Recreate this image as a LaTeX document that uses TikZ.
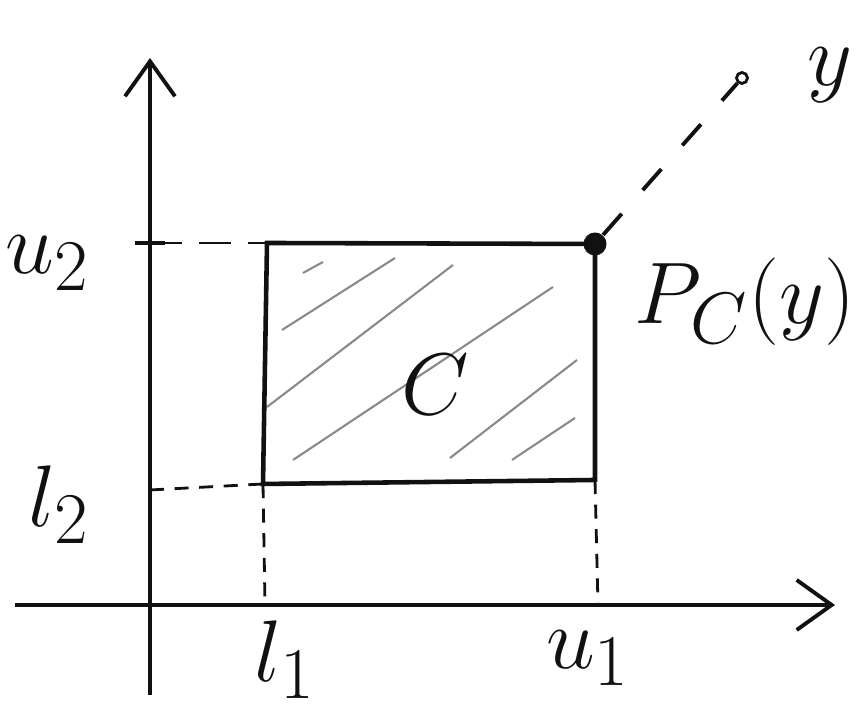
\documentclass[tikz,border=0pt]{standalone}
\usepackage{amsmath,amssymb}
\usepackage{tikz}
\usetikzlibrary{arrows.meta,positioning}
\definecolor{ink}{HTML}{111111}
\definecolor{hatch}{HTML}{8A8A8A}
\tikzset{
  axis/.style={line width=1.1pt, draw=ink, -{Straight Barb[length=3.5mm, width=5mm]}},
  edge/.style={line width=1.3pt, draw=ink},
  guide/.style={line width=0.8pt, draw=ink, dash pattern=on 4pt off 3pt},
  proj/.style={line width=1.1pt, draw=ink, dash pattern=on 8pt off 9pt},
  hatchline/.style={line width=0.6pt, draw=hatch},
  lab/.style={font=\fontsize{30}{30}\selectfont, text=ink, inner sep=0pt},
}

\begin{document}
\begin{tikzpicture}
    \useasboundingbox (0,0) rectangle (8.57,7.2);
    % axes
    \coordinate (o1) at (1.5,0.25);  \coordinate (o2) at (1.5,6.62);
    \coordinate (h1) at (0.15,1.15); \coordinate (h2) at (8.35,1.15);
    \draw[axis] (o1) -- (o2);
    \draw[axis] (h1) -- (h2);
    % the set C
    \coordinate (sw) at (2.63,2.36); \coordinate (se) at (5.95,2.40);
    \coordinate (ne) at (5.95,4.76); \coordinate (nw) at (2.67,4.77);
    \foreach \xa/\ya/\xb/\yb in {3.03/4.47/3.23/4.58, 2.82/3.90/3.95/4.62,
                                 2.67/3.13/4.53/4.55, 2.93/2.60/5.53/4.33,
                                 4.50/2.62/5.77/3.60, 5.12/2.60/5.75/3.02}
      \draw[hatchline] (\xa,\ya) -- (\xb,\yb);
    \draw[edge] (sw) -- (se) -- (ne) -- (nw) -- cycle;
    \node[lab] (c) at (4.35,3.35) {$C$};
    % bounds on the axes
    \coordinate (u2) at (1.5,4.77); \coordinate (l2) at (1.5,2.30);
    \coordinate (l1) at (2.65,1.15); \coordinate (u1) at (5.98,1.15);
    \draw[line width=1pt, draw=ink] ([xshift=-1.5mm]u2) -- ([xshift=1.5mm]u2);
    \draw[guide, dash pattern=on 9pt off 5pt] (u2) -- (nw);
    \draw[guide] (l2) -- (sw);
    \draw[guide] (sw) -- (l1);
    \draw[guide] (se) -- (u1);
    \node[lab, left=6mm of u2, yshift=-2mm] (lu2) {$u_2$};
    \node[lab, left=6mm of l2, yshift=-1.5mm] (ll2) {$l_2$};
    \node[lab, below=1.5mm of l1, xshift=2mm] (ll1) {$l_1$};
    \node[lab, below=2.5mm of u1, xshift=-1mm] (lu1) {$u_1$};
    % the point y and its projection
    \node[circle, draw=ink, line width=0.8pt, inner sep=0pt, minimum size=1.1mm] (y) at (7.42,6.42) {};
    \node[circle, fill=ink, inner sep=0pt, minimum size=2.3mm] (p) at (ne) {};
    \draw[proj] (p) -- (y);
    \node[lab] (ly) at (8.3,6.45) {$y$};
    \node[lab] (lp) at (7.45,4.18) {$P_C(y)$};
  \end{tikzpicture}
\end{document}
